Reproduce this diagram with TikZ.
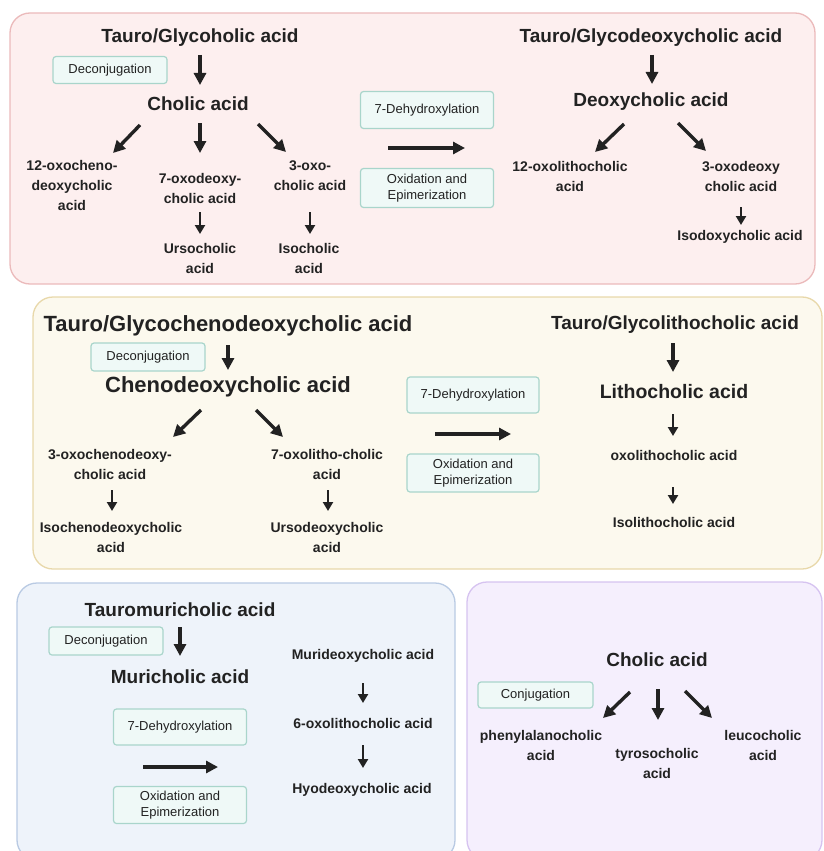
\documentclass[tikz,border=0pt]{standalone}
\usepackage{fontspec}
\setmainfont{Liberation Sans}
\usetikzlibrary{arrows.meta}

\definecolor{pinkfill}{HTML}{FDEFEF}
\definecolor{pinkline}{HTML}{EBBABB}
\definecolor{creamfill}{HTML}{FCF9EE}
\definecolor{creamline}{HTML}{E8D8AA}
\definecolor{bluefill}{HTML}{EEF3FA}
\definecolor{blueline}{HTML}{B9CAE3}
\definecolor{lilacfill}{HTML}{F5EFFD}
\definecolor{lilacline}{HTML}{D6C3F0}
\definecolor{tagfill}{HTML}{EFF9F7}
\definecolor{tagline}{HTML}{A9D5CB}
\definecolor{ink}{HTML}{222222}

\tikzset{
	panel/.style = {rounded corners = 20pt, line width = 1.3pt},
	tag/.style = {draw = tagline, fill = tagfill, line width = 1.2pt, rounded corners = 3pt, text = ink, align = center, inner sep = 0pt, font = \fontsize{13}{16}\selectfont},
	big/.style = {text = ink, inner sep = 0pt, font = \bfseries\fontsize{19}{21}\selectfont},
	huge/.style = {text = ink, inner sep = 0pt, font = \bfseries\fontsize{22}{24}\selectfont},
	small/.style = {text = ink, inner sep = 0pt, align = center, font = \bfseries\fontsize{14}{20}\selectfont},
	arr/.style = {draw = ink, line width = 3.4pt, -{Triangle[length = 12pt, width = 12pt]}},
	arrs/.style = {draw = ink, line width = 2.6pt, -{Triangle[length = 9pt, width = 10pt]}}
}

\begin{document}
\begin{tikzpicture}[x = 1pt, y = -1pt]
	\useasboundingbox (0,0) rectangle (823,851);
	\begin{scope}
		\clip (0,0) rectangle (823,851);
		\draw [panel, draw = pinkline, fill = pinkfill] (10,13) rectangle (815,284);
		\draw [panel, draw = creamline, fill = creamfill] (33,297) rectangle (822,569);
		\draw [panel, draw = blueline, fill = bluefill] (17,583) rectangle (455,860);
		\draw [panel, draw = lilacline, fill = lilacfill] (467,582) rectangle (822,860);
	\end{scope}

	% cholic acid panel
	\begin{scope}
		\node [big] (tgc) at (200,38) {Tauro/Glycoholic acid};
		\node [tag, minimum width = 114pt, minimum height = 27pt] (dec1) at (110,70) {Deconjugation};
		\node [big] (ca1) at (198,104) {Cholic acid};
		\node [small] (oxc) at (72,185) {12-oxocheno-\\deoxycholic\\acid};
		\node [small] (oxd) at (200,188) {7-oxodeoxy-\\cholic acid};
		\node [small] (oxo) at (310,176) {3-oxo-\\cholic acid};
		\node [small] (uca) at (200,258) {Ursocholic\\acid};
		\node [small] (ica) at (309,258) {Isocholic\\acid};
		\node [tag, minimum width = 133pt, minimum height = 37pt] (dh1) at (427,110) {7-Dehydroxylation};
		\node [tag, minimum width = 133pt, minimum height = 39pt] (oe1) at (427,188) {Oxidation and\\Epimerization};
		\node [big] (tgd) at (651,38) {Tauro/Glycodeoxycholic acid};
		\node [big] (dca) at (651,102) {Deoxycholic acid};
		\node [small] (olc) at (570,176) {12-oxolithocholic\\acid};
		\node [small] (odc) at (741,176) {3-oxodeoxy\\cholic acid};
		\node [small] (idc) at (740,237) {Isodoxycholic acid};

		\coordinate (tgc-s) at (200,55);
		\coordinate (ca1-n) at (200,85);
		\coordinate (ca1-sw) at (140,125);
		\coordinate (oxc-n) at (113,153);
		\coordinate (ca1-s) at (200,123);
		\coordinate (oxd-n) at (200,153);
		\coordinate (ca1-se) at (258,124);
		\coordinate (oxo-n) at (286,152);
		\coordinate (oxd-s) at (200,212);
		\coordinate (uca-n) at (200,234);
		\coordinate (oxo-s) at (310,212);
		\coordinate (ica-n) at (310,234);
		\coordinate (step1-w) at (388,148);
		\coordinate (step1-e) at (465,148);
		\coordinate (tgd-s) at (652,55);
		\coordinate (dca-n) at (652,84);
		\coordinate (dca-sw) at (624,124);
		\coordinate (olc-n) at (595,152);
		\coordinate (dca-se) at (678,123);
		\coordinate (odc-n) at (706,151);
		\coordinate (odc-s) at (741,207);
		\coordinate (idc-n) at (741,225);

		\draw [arr] (tgc-s) -- (ca1-n);
		\draw [arr] (ca1-sw) -- (oxc-n);
		\draw [arr] (ca1-s) -- (oxd-n);
		\draw [arr] (ca1-se) -- (oxo-n);
		\draw [arrs] (oxd-s) -- (uca-n);
		\draw [arrs] (oxo-s) -- (ica-n);
		\draw [arr] (step1-w) -- (step1-e);
		\draw [arr] (tgd-s) -- (dca-n);
		\draw [arr] (dca-sw) -- (olc-n);
		\draw [arr] (dca-se) -- (odc-n);
		\draw [arrs] (odc-s) -- (idc-n);
	\end{scope}

	% chenodeoxycholic acid panel
	\begin{scope}
		\node [huge] (tgcd) at (228,326) {Tauro/Glycochenodeoxycholic acid};
		\node [tag, minimum width = 114pt, minimum height = 28pt] (dec2) at (148,357) {Deconjugation};
		\node [huge] (cdca) at (228,387) {Chenodeoxycholic acid};
		\node [small] (ocd) at (110,464) {3-oxochenodeoxy-\\cholic acid};
		\node [small] (olt) at (327,464) {7-oxolitho-cholic\\acid};
		\node [small] (icd) at (111,537) {Isochenodeoxycholic\\acid};
		\node [small] (udc) at (327,537) {Ursodeoxycholic\\acid};
		\node [tag, minimum width = 132pt, minimum height = 36pt] (dh2) at (473,395) {7-Dehydroxylation};
		\node [tag, minimum width = 132pt, minimum height = 38pt] (oe2) at (473,473) {Oxidation and\\Epimerization};
		\node [big] (tgl) at (675,325) {Tauro/Glycolithocholic acid};
		\node [big, font = \bfseries\fontsize{19.5}{21}\selectfont] (lca) at (674,392) {Lithocholic acid};
		\node [small] (ola) at (674,455) {oxolithocholic acid};
		\node [small] (ilc) at (674,522) {Isolithocholic acid};

		\coordinate (tgcd-s) at (228,345);
		\coordinate (cdca-n) at (228,370);
		\coordinate (cdca-sw) at (201,410);
		\coordinate (ocd-n) at (173,437);
		\coordinate (cdca-se) at (256,410);
		\coordinate (olt-n) at (283,437);
		\coordinate (ocd-s) at (112,490);
		\coordinate (icd-n) at (112,511);
		\coordinate (olt-s) at (328,490);
		\coordinate (udc-n) at (328,511);
		\coordinate (step2-w) at (435,434);
		\coordinate (step2-e) at (511,434);
		\coordinate (tgl-s) at (673,343);
		\coordinate (lca-n) at (673,372);
		\coordinate (lca-s) at (673,414);
		\coordinate (ola-n) at (673,436);
		\coordinate (ola-s) at (673,487);
		\coordinate (ilc-n) at (673,504);

		\draw [arr] (tgcd-s) -- (cdca-n);
		\draw [arr] (cdca-sw) -- (ocd-n);
		\draw [arr] (cdca-se) -- (olt-n);
		\draw [arrs] (ocd-s) -- (icd-n);
		\draw [arrs] (olt-s) -- (udc-n);
		\draw [arr] (step2-w) -- (step2-e);
		\draw [arr] (tgl-s) -- (lca-n);
		\draw [arrs] (lca-s) -- (ola-n);
		\draw [arrs] (ola-s) -- (ilc-n);
	\end{scope}

	% muricholic acid panel
	\begin{scope}
		\node [big] (tmc) at (180,610) {Tauromuricholic acid};
		\node [tag, minimum width = 114pt, minimum height = 28pt] (dec3) at (106,641) {Deconjugation};
		\node [big] (mca) at (180,677) {Muricholic acid};
		\node [tag, minimum width = 133pt, minimum height = 36pt] (dh3) at (180,727) {7-Dehydroxylation};
		\node [tag, minimum width = 133pt, minimum height = 37pt] (oe3) at (180,805) {Oxidation and\\Epimerization};
		\node [small] (mdc) at (363,656) {Murideoxycholic acid};
		\node [small] (olx) at (363,723) {6-oxolithocholic acid};
		\node [small] (hdc) at (362,790) {Hyodeoxycholic acid};

		\coordinate (tmc-s) at (180,627);
		\coordinate (mca-n) at (180,656);
		\coordinate (step3-w) at (143,767);
		\coordinate (step3-e) at (218,767);
		\coordinate (mdc-s) at (363,683);
		\coordinate (olx-n) at (363,703);
		\coordinate (olx-s) at (363,745);
		\coordinate (hdc-n) at (363,768);

		\draw [arr] (tmc-s) -- (mca-n);
		\draw [arr] (step3-w) -- (step3-e);
		\draw [arrs] (mdc-s) -- (olx-n);
		\draw [arrs] (olx-s) -- (hdc-n);
	\end{scope}

	% conjugation panel
	\begin{scope}
		\node [big] (ca4) at (657,660) {Cholic acid};
		\node [tag, minimum width = 115pt, minimum height = 26pt] (con) at (535.5,695) {Conjugation};
		\node [small] (pac) at (541,745) {phenylalanocholic\\acid};
		\node [small] (tyc) at (657,763) {tyrosocholic\\acid};
		\node [small] (lcc) at (763,745) {leucocholic\\acid};

		\coordinate (ca4-sw) at (630,692);
		\coordinate (pac-n) at (603,718);
		\coordinate (ca4-s) at (658,689);
		\coordinate (tyc-n) at (658,720);
		\coordinate (ca4-se) at (685,691);
		\coordinate (lcc-n) at (712,718);

		\draw [arr] (ca4-sw) -- (pac-n);
		\draw [arr] (ca4-s) -- (tyc-n);
		\draw [arr] (ca4-se) -- (lcc-n);
	\end{scope}
\end{tikzpicture}
\end{document}
